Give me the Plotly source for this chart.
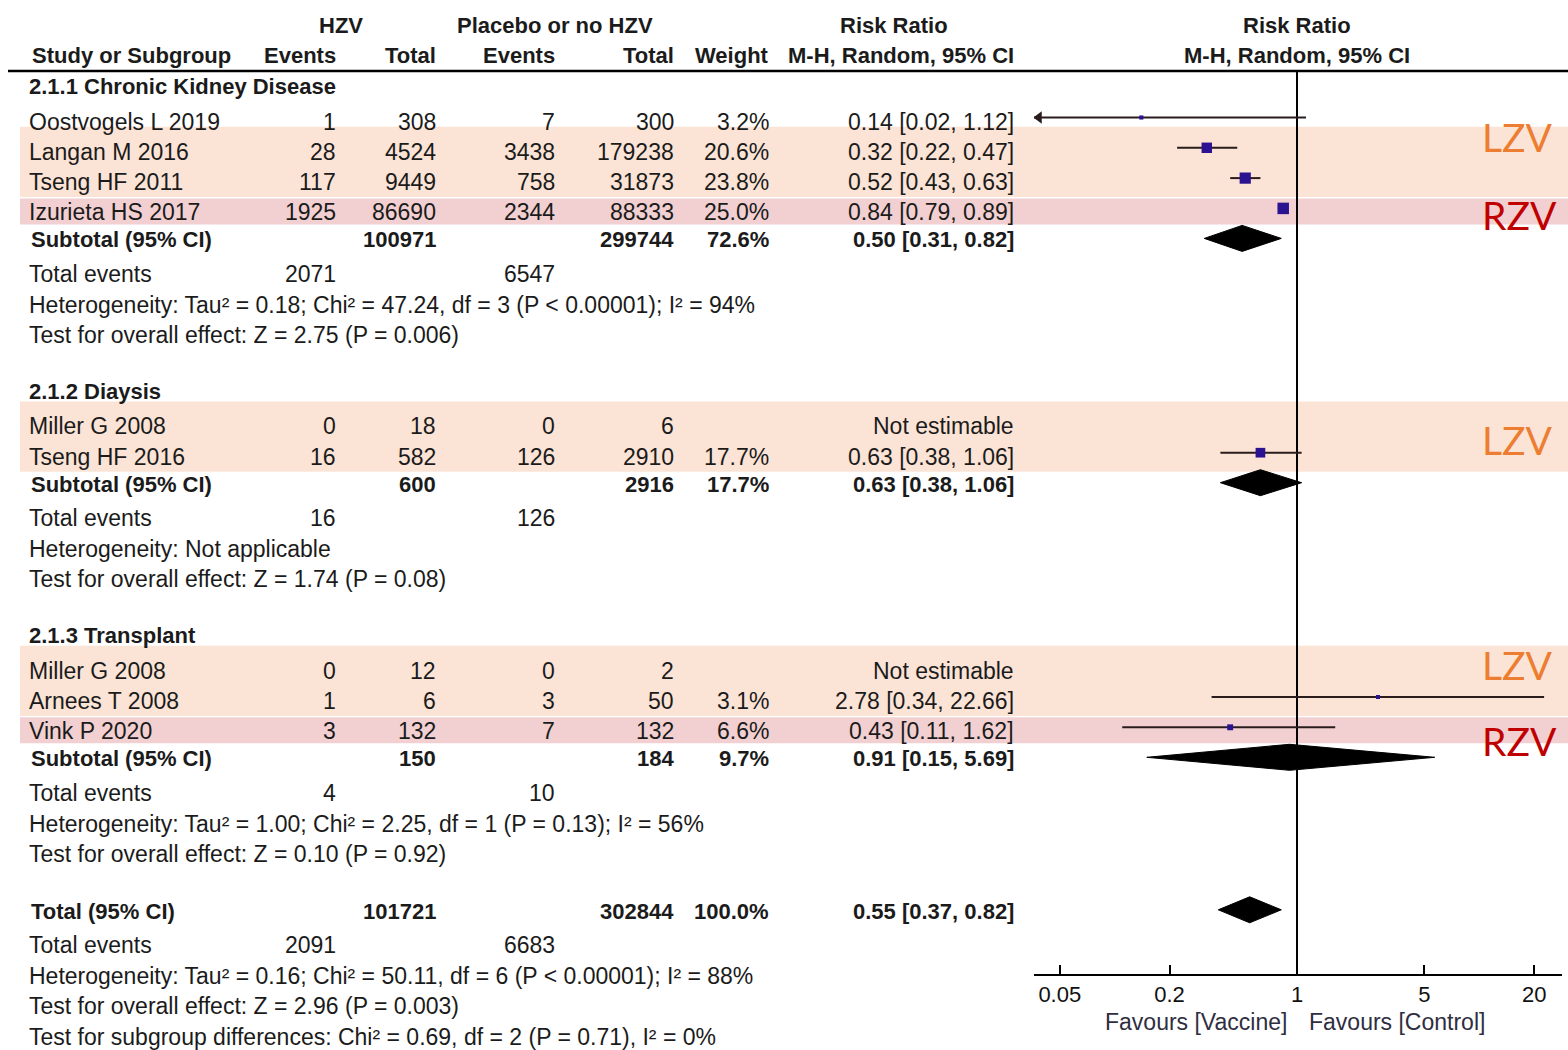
import math
import plotly.graph_objects as go

# ---------------- data ----------------
group_names = ["2.1.1 Chronic Kidney Disease", "2.1.2 Diaysis", "2.1.3 Transplant"]

study_names = ["Oostvogels L 2019", "Langan M 2016", "Tseng HF 2011", "Izurieta HS 2017",
               "Miller G 2008", "Tseng HF 2016",
               "Miller G 2008", "Arnees T 2008", "Vink P 2020"]
study_group = [0, 0, 0, 0, 1, 1, 2, 2, 2]
hzv_events = [1, 28, 117, 1925, 0, 16, 0, 1, 3]
hzv_total = [308, 4524, 9449, 86690, 18, 582, 12, 6, 132]
ctrl_events = [7, 3438, 758, 2344, 0, 126, 0, 3, 7]
ctrl_total = [300, 179238, 31873, 88333, 6, 2910, 2, 50, 132]
weight_pct = [3.2, 20.6, 23.8, 25.0, None, 17.7, None, 3.1, 6.6]
rr = [0.14, 0.32, 0.52, 0.84, None, 0.63, None, 2.78, 0.43]
rr_low = [0.02, 0.22, 0.43, 0.79, None, 0.38, None, 0.34, 0.11]
rr_high = [1.12, 0.47, 0.63, 0.89, None, 1.06, None, 22.66, 1.62]
vaccine = [None, "LZV", "LZV", "RZV", "LZV", "LZV", "LZV", "LZV", "RZV"]

sub_hzv_total = [100971, 600, 150]
sub_ctrl_total = [299744, 2916, 184]
sub_weight = [72.6, 17.7, 9.7]
sub_rr = [0.50, 0.63, 0.91]
sub_low = [0.31, 0.38, 0.15]
sub_high = [0.82, 1.06, 5.69]
sub_hzv_events = [2071, 16, 4]
sub_ctrl_events = [6547, 126, 10]
sub_het = ["Heterogeneity: Tau² = 0.18; Chi² = 47.24, df = 3 (P < 0.00001); I² = 94%",
           "Heterogeneity: Not applicable",
           "Heterogeneity: Tau² = 1.00; Chi² = 2.25, df = 1 (P = 0.13); I² = 56%"]
sub_test = ["Test for overall effect: Z = 2.75 (P = 0.006)",
            "Test for overall effect: Z = 1.74 (P = 0.08)",
            "Test for overall effect: Z = 0.10 (P = 0.92)"]

total_hzv = 101721
total_ctrl = 302844
total_weight = 100.0
total_rr, total_low, total_high = 0.55, 0.37, 0.82
total_hzv_events = 2091
total_ctrl_events = 6683
total_het = "Heterogeneity: Tau² = 0.16; Chi² = 50.11, df = 6 (P < 0.00001); I² = 88%"
total_test = "Test for overall effect: Z = 2.96 (P = 0.003)"
subgroup_test = "Test for subgroup differences: Chi² = 0.69, df = 2 (P = 0.71), I² = 0%"

axis_ticks = [0.05, 0.2, 1, 5, 20]
axis_tick_labels = ["0.05", "0.2", "1", "5", "20"]
axis_min, axis_max = 0.0361, 28.4

# ---------------- styling / layout ----------------
W, H = 1568, 1050
FONT = "Liberation Sans, Arial, sans-serif"
FS = 23      # regular text
FSB = 22     # bold text
TXT = "#1b1b1b"
SQUARE = "#2a1290"
CI_LINE = "#2a1c1c"
LZV_FILL, RZV_FILL = "#fbe4d6", "#f2d0d1"
LZV_TXT, RZV_TXT = "#ed7d31", "#c00000"

NAME_X = 27
COL = {"ev1": 338, "tot1": 438, "ev2": 557, "tot2": 676, "wt": 771, "ci": 1016}
AX_DOM = (1034 / W, 1562 / W)
AXIS_Y = 975
RULE_Y = 71

STEP = {("group", "study"): 35, ("study", "study"): 30.3, ("study", "subtotal"): 27.5,
        ("subtotal", "events"): 34, ("events", "het"): 31, ("het", "test"): 30,
        ("test", "group"): 56.5, ("test", "total"): 57.5, ("total", "events"): 34,
        ("test", "test"): 31}

rows = []
for g, gname in enumerate(group_names):
    rows.append(("group", g))
    for i, sg in enumerate(study_group):
        if sg == g:
            rows.append(("study", i))
    rows.append(("subtotal", g))
    rows.append(("events", g))
    rows.append(("het", g))
    rows.append(("test", g))
rows.append(("total", None))
rows.append(("events", "T"))
rows.append(("het", "T"))
rows.append(("test", "T"))
rows.append(("test", "S"))

ys = []
y = 86.5
prev = None
for kind, _ in rows:
    if prev is not None:
        y += STEP[(prev, kind)]
    ys.append(y)
    prev = kind

fig = go.Figure()


def txt(xpx, yv, s, anchor="left", bold=False, size=None, color=TXT, family=FONT):
    if size is None:
        size = FSB if bold else FS
    fig.add_annotation(x=xpx / W, xref="paper", y=yv, yref="y",
                       text=f"<b>{s}</b>" if bold else s, showarrow=False,
                       xanchor=anchor, yanchor="middle",
                       font=dict(family=family, size=size, color=color))


def ci_text(a, b, c):
    return f"{a:.2f} [{b:.2f}, {c:.2f}]"


# header
txt(341, 25, "HZV", "center", True)
txt(555, 25, "Placebo or no HZV", "center", True)
txt(894, 25, "Risk Ratio", "center", True)
txt(1297, 25, "Risk Ratio", "center", True)
txt(30, 55, "Study or Subgroup", "left", True)
txt(COL["ev1"], 55, "Events", "right", True)
txt(COL["tot1"], 55, "Total", "right", True)
txt(COL["ev2"], 55, "Events", "right", True)
txt(COL["tot2"], 55, "Total", "right", True)
txt(COL["wt"], 55, "Weight", "right", True)
txt(COL["ci"], 55, "M-H, Random, 95% CI", "right", True)
txt(1297, 55, "M-H, Random, 95% CI", "center", True)
fig.add_shape(type="line", xref="paper", yref="y", x0=8 / W, x1=1, y0=RULE_Y, y1=RULE_Y,
              line=dict(color="black", width=2.5))

# forest mark containers
ci_x, ci_y = [], []
sq_x, sq_y, sq_s = [], [], []
arr_x, arr_y, arr_sym = [], [], []
dia_x, dia_y = [], []
study_y = {}
MARK_DY = -4
DIA_DY = -1.5
DIA_H = 13
px_per_dec = (AX_DOM[1] - AX_DOM[0]) * W / (math.log10(axis_max) - math.log10(axis_min))


def add_diamond(est, lo, hi, yc):
    dia_x.extend([lo, est, hi, est, lo, None])
    dia_y.extend([yc, yc - DIA_H, yc, yc + DIA_H, yc, None])


for (kind, ref), yv in zip(rows, ys):
    if kind == "group":
        txt(NAME_X, yv, group_names[ref], bold=True)
    elif kind == "study":
        i = ref
        txt(NAME_X, yv, study_names[i])
        txt(COL["ev1"], yv, str(hzv_events[i]), "right")
        txt(COL["tot1"], yv, str(hzv_total[i]), "right")
        txt(COL["ev2"], yv, str(ctrl_events[i]), "right")
        txt(COL["tot2"], yv, str(ctrl_total[i]), "right")
        my = yv + MARK_DY
        study_y[i] = my
        if rr[i] is None:
            txt(COL["ci"], yv, "Not estimable", "right")
        else:
            txt(COL["wt"], yv, f"{weight_pct[i]:.1f}%", "right")
            txt(COL["ci"], yv, ci_text(rr[i], rr_low[i], rr_high[i]), "right")
            lo = max(rr_low[i], axis_min)
            hi = min(rr_high[i], axis_max)
            ci_x.extend([lo, hi, None])
            ci_y.extend([my, my, None])
            sq_x.append(rr[i]); sq_y.append(my)
            sq_s.append(2.3 * math.sqrt(weight_pct[i]))
            if rr_low[i] < axis_min:
                arr_x.append(10 ** (math.log10(axis_min) + 5 / px_per_dec))
                arr_y.append(my); arr_sym.append("triangle-left")
            if rr_high[i] > axis_max:
                arr_x.append(10 ** (math.log10(axis_max) - 5 / px_per_dec))
                arr_y.append(my); arr_sym.append("triangle-right")
    elif kind == "subtotal":
        g = ref
        txt(NAME_X + 2, yv, "Subtotal (95% CI)", bold=True)
        txt(COL["tot1"], yv, str(sub_hzv_total[g]), "right", True)
        txt(COL["tot2"], yv, str(sub_ctrl_total[g]), "right", True)
        txt(COL["wt"], yv, f"{sub_weight[g]:.1f}%", "right", True)
        txt(COL["ci"], yv, ci_text(sub_rr[g], sub_low[g], sub_high[g]), "right", True)
        add_diamond(sub_rr[g], sub_low[g], sub_high[g], yv + DIA_DY)
    elif kind == "total":
        txt(NAME_X + 2, yv, "Total (95% CI)", bold=True)
        txt(COL["tot1"], yv, str(total_hzv), "right", True)
        txt(COL["tot2"], yv, str(total_ctrl), "right", True)
        txt(COL["wt"], yv, f"{total_weight:.1f}%", "right", True)
        txt(COL["ci"], yv, ci_text(total_rr, total_low, total_high), "right", True)
        add_diamond(total_rr, total_low, total_high, yv + DIA_DY)
    elif kind == "events":
        a = total_hzv_events if ref == "T" else sub_hzv_events[ref]
        b = total_ctrl_events if ref == "T" else sub_ctrl_events[ref]
        txt(NAME_X, yv, "Total events")
        txt(COL["ev1"], yv, str(a), "right")
        txt(COL["ev2"], yv, str(b), "right")
    elif kind == "het":
        txt(NAME_X, yv, total_het if ref == "T" else sub_het[ref])
    elif kind == "test":
        s = total_test if ref == "T" else (subgroup_test if ref == "S" else sub_test[ref])
        txt(NAME_X, yv, s)

# highlight bands (runs of the same vaccine type within a group)
bands = []
i = 0
while i < len(vaccine):
    if vaccine[i] is None:
        i += 1
        continue
    j = i
    while j + 1 < len(vaccine) and vaccine[j + 1] == vaccine[i] and study_group[j + 1] == study_group[i]:
        j += 1
    bands.append((vaccine[i], i, j))
    i = j + 1

band_label_dy = [10, 16.6, 38.6, 19.3, 23.7]
for k, (vt, i0, i1) in enumerate(bands):
    if vt == "LZV":
        top, bot, fill, col = study_y[i0] - 21, study_y[i1] + 19, LZV_FILL, LZV_TXT
    else:
        top, bot, fill, col = study_y[i0] - 10, study_y[i1] + 16, RZV_FILL, RZV_TXT
    fig.add_shape(type="rect", xref="paper", yref="y", x0=20 / W, x1=1, y0=top, y1=bot,
                  fillcolor=fill, line=dict(width=0), layer="below")
    txt(1480, top + band_label_dy[k], vt, "left", size=39, color=col,
        family="Lato, Open Sans, sans-serif")

# line of no effect
fig.add_trace(go.Scatter(x=[1, 1], y=[RULE_Y, AXIS_Y], mode="lines",
                         line=dict(color="black", width=2), hoverinfo="skip", showlegend=False))
# confidence intervals
fig.add_trace(go.Scatter(x=ci_x, y=ci_y, mode="lines", line=dict(color=CI_LINE, width=2),
                         hoverinfo="skip", showlegend=False))
# arrows for truncated CIs
if arr_x:
    fig.add_trace(go.Scatter(x=arr_x, y=arr_y, mode="markers",
                             marker=dict(symbol=arr_sym, size=11, color=CI_LINE),
                             hoverinfo="skip", showlegend=False))
# study estimates
fig.add_trace(go.Scatter(x=sq_x, y=sq_y, mode="markers",
                         marker=dict(symbol="square", size=sq_s, color=SQUARE, opacity=1,
                                     line=dict(width=0)),
                         hoverinfo="skip", showlegend=False))
# pooled diamonds
fig.add_trace(go.Scatter(x=dia_x, y=dia_y, mode="lines", fill="toself", fillcolor="black",
                         line=dict(color="black", width=1), hoverinfo="skip", showlegend=False))

# favours labels
fig.add_annotation(x=0, xref="x", y=1022, yref="y", text="Favours [Vaccine]", showarrow=False,
                   xanchor="right", yanchor="middle", xshift=-8,
                   font=dict(family=FONT, size=FS, color="#2e2e40"))
fig.add_annotation(x=0, xref="x", y=1022, yref="y", text="Favours [Control]", showarrow=False,
                   xanchor="left", yanchor="middle", xshift=10,
                   font=dict(family=FONT, size=FS, color="#2e2e40"))

fig.update_layout(
    width=W, height=H, margin=dict(l=0, r=0, t=0, b=0),
    paper_bgcolor="white", plot_bgcolor="rgba(0,0,0,0)", showlegend=False,
    xaxis=dict(type="log", range=[math.log10(axis_min), math.log10(axis_max)], domain=list(AX_DOM),
               anchor="free", position=1 - AXIS_Y / H, showline=True, linecolor="black", linewidth=2,
               ticks="inside", ticklen=9, tickwidth=2, tickcolor="black",
               tickvals=axis_ticks, ticktext=axis_tick_labels, showgrid=False, zeroline=False,
               tickfont=dict(family=FONT, size=FSB, color="#111111")),
    yaxis=dict(range=[H, 0], domain=[0, 1], visible=False, showgrid=False, zeroline=False),
)

fig.write_html("out.html", config={"displayModeBar": False},
               post_script="document.body.style.margin='0px';document.body.style.overflow='hidden';")
